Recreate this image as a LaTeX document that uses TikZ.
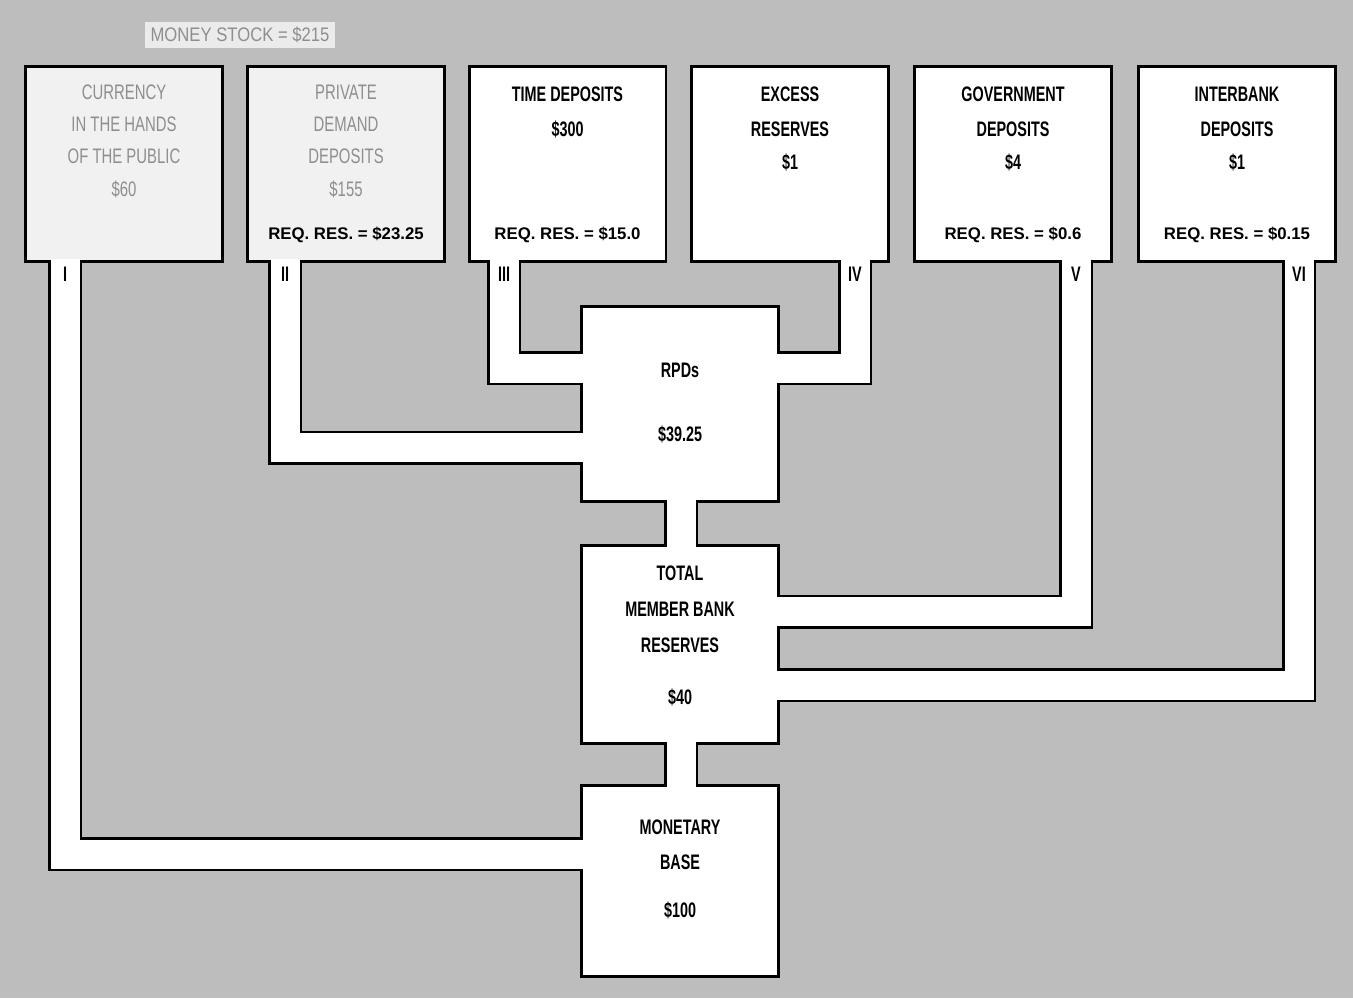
\documentclass[tikz,border=0pt]{standalone}
\usepackage{fontspec}
\setmainfont{Liberation Sans}
\newfontfamily\condb{Liberation Sans}[FakeStretch=0.685]
\newfontfamily\condr{Liberation Sans}[FakeStretch=0.71]
\newfontfamily\moneyf{Liberation Sans}[FakeStretch=0.85]
\usetikzlibrary{calc}
\definecolor{bggray}{HTML}{BDBDBD}
\definecolor{txtgray}{HTML}{8E8E8E}
\definecolor{lightbox}{HTML}{F1F1F1}
\definecolor{labelbg}{HTML}{EBEBEB}
\pgfdeclarelayer{bgl}
\pgfdeclarelayer{outl}
\pgfsetlayers{bgl,outl,main}
\newcommand\drawpipes[1]{%
 \draw[#1] (b1.south -| pI) |- (mb.west |- pI);
 \draw[#1] (b2.south -| pII) |- (rpd.west |- pII);
 \draw[#1] (b3.south -| pIII) |- (rpd.west |- pIII);
 \draw[#1] (b4.south -| pIV) |- (rpd.east |- pIV);
 \draw[#1] (b5.south -| pV) |- (tm.east |- pV);
 \draw[#1] (b6.south -| pVI) |- (tm.east |- pVI);
 \draw[#1] (rpd.south -| pC) -- (tm.north -| pC);
 \draw[#1] (tm.south -| pC) -- (mb.north -| pC);
}
\begin{document}
\begin{tikzpicture}[x=0.5pt,y=-0.5pt,
 box/.style={rectangle, minimum width=97pt, minimum height=96pt, inner sep=0pt, fill=white},
 gbox/.style={box, fill=lightbox},
 boxline/.style={draw=black, line width=2.5pt},
 pipeblack/.style={draw=black, line width=17pt, shorten <=-0.5pt, shorten >=-0.5pt},
 pipewhite/.style={draw=white, line width=14.5pt, shorten <=-0.5pt, shorten >=-0.5pt},
 tb/.style={anchor=base, inner sep=0pt, font=\condb\bfseries\fontsize{10.5}{12}\selectfont},
 tg/.style={anchor=base, inner sep=0pt, text=txtgray, font=\condr\fontsize{10.5}{12}\selectfont},
 tr/.style={anchor=base, inner sep=0pt, font=\bfseries\fontsize{8.4}{10}\selectfont},
 num/.style={anchor=base, inner sep=0pt, font=\condb\bfseries\fontsize{10.5}{12}\selectfont}
]
\useasboundingbox (0,0) rectangle (1353,998);
\begin{pgfonlayer}{bgl}
 \fill[bggray] (0,0) rectangle (1353,998);
\end{pgfonlayer}

% boxes
\node[gbox] (b1) at (124,164) {};
\node[gbox] (b2) at (346,164) {};
\node[box] (b3) at (567.5,164) {};
\node[box] (b4) at (790,164) {};
\node[box] (b5) at (1013,164) {};
\node[box] (b6) at (1237,164) {};
\node[box] (rpd) at (680,404) {};
\node[box, minimum height=97.5pt] (tm) at (680,644.5) {};
\node[box, minimum height=94pt] (mb) at (680,881) {};

% pipe routing coordinates
\coordinate (pI) at (65,854);
\coordinate (pII) at (285,447.5);
\coordinate (pIII) at (504,368);
\coordinate (pIV) at (855,368);
\coordinate (pV) at (1076,611.5);
\coordinate (pVI) at (1299,685);
\coordinate (pC) at (681,0);

\begin{pgfonlayer}{outl}
 \foreach \b in {b1,b2,b3,b4,b5,b6,rpd,tm,mb}
   \draw[boxline] (\b.south west) rectangle (\b.north east);
 \drawpipes{pipeblack}
\end{pgfonlayer}
\drawpipes{pipewhite}

% money stock label
\node[fill=labelbg, minimum width=95pt, minimum height=13pt, inner sep=0pt, text=txtgray,
      font=\moneyf\fontsize{9.8}{11}\selectfont] (ms) at (240,35) {MONEY STOCK = \$215};

% box 1
\node[tg] (t1a) at ($(b1.north)+(0,32)$) {CURRENCY};
\node[tg] (t1b) at ($(b1.north)+(0,64)$) {IN THE HANDS};
\node[tg] (t1c) at ($(b1.north)+(0,95.5)$) {OF THE PUBLIC};
\node[tg] (t1d) at ($(b1.north)+(0,129)$) {\$60};
% box 2
\node[tg] (t2a) at ($(b2.north)+(0,32)$) {PRIVATE};
\node[tg] (t2b) at ($(b2.north)+(0,64)$) {DEMAND};
\node[tg] (t2c) at ($(b2.north)+(0,95.5)$) {DEPOSITS};
\node[tg] (t2d) at ($(b2.north)+(0,129)$) {\$155};
\node[tr] (t2e) at ($(b2.north)+(0,172)$) {REQ. RES. = \$23.25};
% box 3
\node[tb] (t3a) at ($(b3.north)+(0,34)$) {TIME DEPOSITS};
\node[tb] (t3b) at ($(b3.north)+(0,68.5)$) {\$300};
\node[tr] (t3e) at ($(b3.north)+(0,172)$) {REQ. RES. = \$15.0};
% box 4
\node[tb] (t4a) at ($(b4.north)+(0,34)$) {EXCESS};
\node[tb] (t4b) at ($(b4.north)+(0,68.5)$) {RESERVES};
\node[tb] (t4c) at ($(b4.north)+(0,102)$) {\$1};
% box 5
\node[tb] (t5a) at ($(b5.north)+(0,34)$) {GOVERNMENT};
\node[tb] (t5b) at ($(b5.north)+(0,68.5)$) {DEPOSITS};
\node[tb] (t5c) at ($(b5.north)+(0,102)$) {\$4};
\node[tr] (t5e) at ($(b5.north)+(0,172)$) {REQ. RES. = \$0.6};
% box 6
\node[tb] (t6a) at ($(b6.north)+(0,34)$) {INTERBANK};
\node[tb] (t6b) at ($(b6.north)+(0,68.5)$) {DEPOSITS};
\node[tb] (t6c) at ($(b6.north)+(0,102)$) {\$1};
\node[tr] (t6e) at ($(b6.north)+(0,172)$) {REQ. RES. = \$0.15};
% RPDs
\node[tb] (tra) at ($(rpd.north)+(0,70)$) {RPDs};
\node[tb] (trb) at ($(rpd.north)+(0,134)$) {\$39.25};
% total member bank reserves
\node[tb] (tma) at ($(tm.north)+(0,33.5)$) {TOTAL};
\node[tb] (tmb) at ($(tm.north)+(0,69.5)$) {MEMBER BANK};
\node[tb] (tmc) at ($(tm.north)+(0,105.5)$) {RESERVES};
\node[tb] (tmd) at ($(tm.north)+(0,157.5)$) {\$40};
% monetary base
\node[tb] (mba) at ($(mb.north)+(0,47.5)$) {MONETARY};
\node[tb] (mbb) at ($(mb.north)+(0,82.5)$) {BASE};
\node[tb] (mbc) at ($(mb.north)+(0,130.5)$) {\$100};

% pipe numerals
\node[num] (nI) at ($(b1.south -| pI)+(0,21.5)$) {I};
\node[num] (nII) at ($(b2.south -| pII)+(0,21.5)$) {II};
\node[num] (nIII) at ($(b3.south -| pIII)+(0,21.5)$) {III};
\node[num] (nIV) at ($(b4.south -| pIV)+(0,21.5)$) {IV};
\node[num] (nV) at ($(b5.south -| pV)+(0,21.5)$) {V};
\node[num] (nVI) at ($(b6.south -| pVI)+(0,21.5)$) {VI};
\end{tikzpicture}
\end{document}
